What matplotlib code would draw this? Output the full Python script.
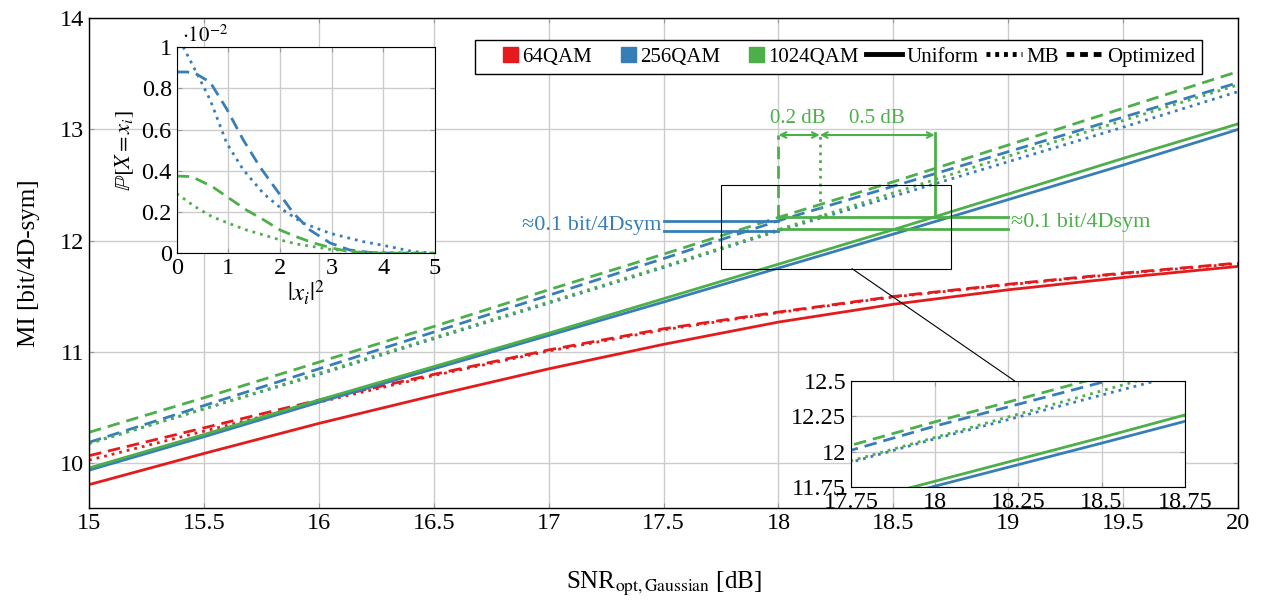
import matplotlib
matplotlib.use("Agg")
import matplotlib.pyplot as plt
import matplotlib.patches as mpatches
from matplotlib.lines import Line2D
from matplotlib.legend_handler import HandlerPatch
from matplotlib.patches import ConnectionPatch

plt.rcParams['font.family'] = ['Liberation Serif', 'DejaVu Serif']
plt.rcParams['mathtext.fontset'] = 'stix'

# SNR grid [dB] and MI curves [bit/4D-sym]
snr = [15, 15.5, 16, 16.5, 17, 17.5, 18, 18.5, 19, 19.5, 20]
mi_64_uni = [9.81, 10.09, 10.36, 10.61, 10.85, 11.07, 11.27, 11.43, 11.56, 11.67, 11.77]
mi_64_mb = [10.03, 10.29, 10.55, 10.79, 11.01, 11.20, 11.355, 11.495, 11.605, 11.705, 11.795]
mi_64_opt = [10.07, 10.32, 10.57, 10.80, 11.02, 11.21, 11.36, 11.50, 11.61, 11.71, 11.80]
mi_256_uni = [9.94, 10.24, 10.55, 10.85, 11.15, 11.45, 11.755, 12.06, 12.37, 12.68, 13.00]
mi_256_mb = [10.18, 10.49, 10.80, 11.12, 11.44, 11.76, 12.09, 12.40, 12.71, 13.02, 13.34]
mi_256_opt = [10.19, 10.52, 10.85, 11.18, 11.51, 11.84, 12.18, 12.49, 12.80, 13.11, 13.42]
mi_1024_uni = [9.96, 10.26, 10.57, 10.87, 11.17, 11.48, 11.79, 12.10, 12.42, 12.74, 13.05]
mi_1024_mb = [10.18, 10.49, 10.81, 11.13, 11.45, 11.77, 12.10, 12.43, 12.76, 13.08, 13.40]
mi_1024_opt = [10.28, 10.59, 10.91, 11.23, 11.56, 11.88, 12.21, 12.53, 12.86, 13.19, 13.52]

# PMF inset (x 1e-2)
x_256_opt = [0, 0.2, 0.35, 0.65, 0.97, 1.29, 1.61, 1.94, 2.26, 2.58, 2.97, 3.35, 3.74, 4.1, 4.5]
p_256_opt = [0.88, 0.88, 0.875, 0.83, 0.70, 0.55, 0.42, 0.305, 0.195, 0.113, 0.05, 0.016, 0.004, 0.001, 0.0]
x_256_mb = [0, 0.13, 0.39, 0.65, 0.97, 1.29, 1.68, 2.06, 2.45, 2.97, 3.6, 4.13, 4.58, 5.0]
p_256_mb = [1.07, 1.0, 0.874, 0.744, 0.534, 0.405, 0.29, 0.21, 0.146, 0.097, 0.057, 0.032, 0.008, 0.0]
x_1024_opt = [0, 0.29, 0.68, 1.0, 1.35, 1.68, 2.0, 2.32, 2.65, 3.03, 3.35, 3.74, 5.0]
p_1024_opt = [0.375, 0.372, 0.325, 0.27, 0.21, 0.163, 0.113, 0.08, 0.05, 0.024, 0.008, 0.001, 0.0]
x_1024_mb = [0, 0.35, 0.68, 1.0, 1.35, 1.68, 2.0, 2.32, 2.65, 2.97, 3.6, 5.0]
p_1024_mb = [0.29, 0.227, 0.178, 0.146, 0.113, 0.089, 0.065, 0.045, 0.032, 0.019, 0.005, 0.0]

red = '#e41a1c'
blue = '#377eb8'
green = '#4daf4a'
dash = (0, (4.5, 2.5))
dot = (0, (1, 1.8))
lw = 2.0
tfs = 17.5

fig = plt.figure(figsize=(12.61, 6.03), dpi=100)
ax = fig.add_axes([0.0706, 0.1575, 0.9112, 0.8125])


def draw_curves(a):
    a.plot(snr, mi_64_uni, color=red, lw=lw)
    a.plot(snr, mi_64_mb, color=red, lw=lw, ls=dot)
    a.plot(snr, mi_64_opt, color=red, lw=lw, ls=dash)
    a.plot(snr, mi_256_uni, color=blue, lw=lw)
    a.plot(snr, mi_256_mb, color=blue, lw=lw, ls=dot)
    a.plot(snr, mi_256_opt, color=blue, lw=lw, ls=dash)
    a.plot(snr, mi_1024_uni, color=green, lw=lw)
    a.plot(snr, mi_1024_mb, color=green, lw=lw, ls=dot)
    a.plot(snr, mi_1024_opt, color=green, lw=lw, ls=dash)


draw_curves(ax)
ax.set_xlim(15, 20)
ax.set_ylim(9.6, 14)
ax.set_xticks([15, 15.5, 16, 16.5, 17, 17.5, 18, 18.5, 19, 19.5, 20])
ax.set_xticklabels(['15', '15.5', '16', '16.5', '17', '17.5', '18', '18.5', '19', '19.5', '20'])
ax.set_yticks([10, 11, 12, 13, 14])
ax.grid(color='#cccccc', lw=1)
ax.tick_params(direction='in', labelsize=tfs, top=True, right=True, color='#999999')
ax.set_xlabel(r'SNR$_{\mathrm{opt,Gaussian}}$ [dB]', fontsize=18, labelpad=26)
ax.set_ylabel('MI [bit/4D-sym]', fontsize=18, labelpad=14)
for s in ax.spines.values():
    s.set_linewidth(1.0)

# annotations
ax.plot([17.5, 18.0], [12.18, 12.18], color=blue, lw=lw)
ax.plot([17.5, 18.0], [12.09, 12.09], color=blue, lw=lw)
ax.plot([18.0, 19.0], [12.21, 12.21], color=green, lw=lw)
ax.plot([18.0, 19.0], [12.105, 12.105], color=green, lw=lw)
ax.plot([18.0, 18.0], [12.21, 12.95], color=green, lw=lw, ls=dash)
ax.plot([18.18, 18.18], [12.21, 12.95], color=green, lw=lw, ls=dot)
ax.plot([18.68, 18.68], [12.21, 12.97], color=green, lw=lw)
ax.annotate('', xy=(18.0, 12.95), xytext=(18.18, 12.95),
            arrowprops=dict(arrowstyle='<->', color=green, lw=1.5, shrinkA=0, shrinkB=0))
ax.annotate('', xy=(18.18, 12.95), xytext=(18.68, 12.95),
            arrowprops=dict(arrowstyle='<->', color=green, lw=1.5, shrinkA=0, shrinkB=0))
ax.text(18.085, 13.01, '0.2 dB', color=green, fontsize=15, ha='center', va='bottom')
ax.text(18.43, 13.01, '0.5 dB', color=green, fontsize=15, ha='center', va='bottom')
ax.text(17.49, 12.14, '\u22480.1 bit/4Dsym', color=blue, fontsize=16, ha='right', va='center')
ax.text(19.01, 12.16, '\u22480.1 bit/4Dsym', color=green, fontsize=16, ha='left', va='center')

ax.add_patch(mpatches.Rectangle((17.75, 11.75), 1.0, 0.75, fill=False, ec='black', lw=0.8, zorder=5))


def square(legend, orig_handle, xdescent, ydescent, width, height, fontsize):
    h = height * 1.05
    return mpatches.Rectangle((width - xdescent - h, -ydescent - 0.02 * height), h, h)


handles = [mpatches.Patch(color=red), mpatches.Patch(color=blue), mpatches.Patch(color=green),
           Line2D([], [], color='black', lw=3.5),
           Line2D([], [], color='black', lw=3.5, ls=(0, (0.8, 1))),
           Line2D([], [], color='black', lw=3.5, ls=(0, (1.6, 1.2)))]
labels = ['64QAM', '256QAM', '1024QAM', 'Uniform', 'MB', 'Optimized']
leg = ax.legend(handles, labels, ncol=6, loc='upper right', bbox_to_anchor=(0.978, 0.977),
                fontsize=15, handlelength=1.75, handletextpad=0.2, columnspacing=0.35,
                borderpad=0.35, fancybox=False, edgecolor='black', framealpha=1,
                handler_map={mpatches.Patch: HandlerPatch(patch_func=square)})
leg.get_frame().set_linewidth(1.0)

# PMF inset
ax1 = fig.add_axes([0.1401, 0.580, 0.2048, 0.3416])
ax1.plot(x_256_opt, p_256_opt, color=blue, lw=lw, ls=dash)
ax1.plot(x_256_mb, p_256_mb, color=blue, lw=lw, ls=dot)
ax1.plot(x_1024_opt, p_1024_opt, color=green, lw=lw, ls=dash)
ax1.plot(x_1024_mb, p_1024_mb, color=green, lw=lw, ls=dot)
ax1.set_xlim(0, 5)
ax1.set_ylim(0, 1)
ax1.set_xticks([0, 1, 2, 3, 4, 5])
ax1.set_yticks([0, 0.2, 0.4, 0.6, 0.8, 1])
ax1.set_yticklabels(['0', '0.2', '0.4', '0.6', '0.8', '1'])
ax1.grid(color='#cccccc', lw=1)
ax1.tick_params(direction='in', labelsize=tfs, top=True, right=True, color='#999999')
ax1.set_xlabel(r'$|x_i|^2$', fontsize=18, labelpad=0)
ax1.set_ylabel(r'$\mathbb{P}[X = x_i]$', fontsize=16, labelpad=4)
ax1.text(0.02, 1.0, r'$\cdot 10^{-2}$', transform=ax1.transAxes, fontsize=15, ha='left', va='bottom')

# zoom inset
ax2 = fig.add_axes([0.6749, 0.1924, 0.2649, 0.1758])
draw_curves(ax2)
ax2.set_xlim(17.75, 18.75)
ax2.set_ylim(11.75, 12.5)
ax2.set_xticks([17.75, 18, 18.25, 18.5, 18.75])
ax2.set_xticklabels(['17.75', '18', '18.25', '18.5', '18.75'])
ax2.set_yticks([11.75, 12, 12.25, 12.5])
ax2.set_yticklabels(['11.75', '12', '12.25', '12.5'])
ax2.grid(color='#cccccc', lw=1)
ax2.tick_params(direction='in', labelsize=tfs, top=True, right=True, color='#999999')

con = ConnectionPatch(xyA=(18.32, 11.75), coordsA=ax.transData,
                      xyB=(0.49, 1.0), coordsB=ax2.transAxes, color='black', lw=0.8)
fig.add_artist(con)

fig.savefig('out.png', dpi=100)
